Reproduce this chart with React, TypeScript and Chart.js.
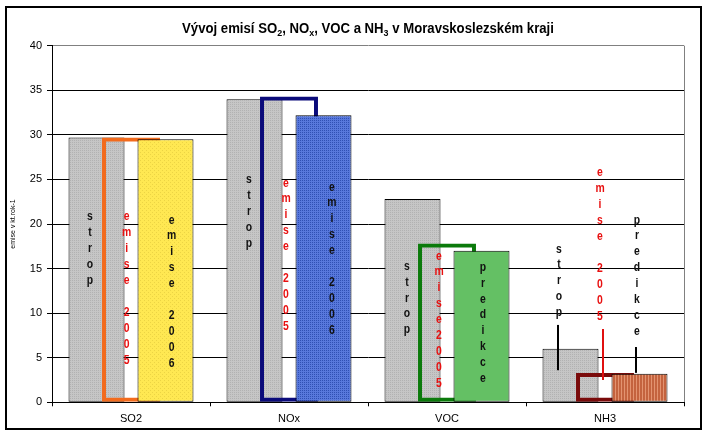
import React, { useEffect, useRef } from 'react';
import { Chart, registerables } from 'chart.js';

Chart.register(...registerables);

// ---- data ----
const categories = ['SO2', 'NOx', 'VOC', 'NH3'];
const stropValues = [29.7, 34.0, 22.8, 6.0];
const emise2005Values = [29.7, 34.3, 17.8, 3.3];
const thirdValues = [29.5, 32.2, 17.0, 3.2];
const thirdNames = ['emise 2006', 'emise 2006', 'predikce', 'predikce'];
const emise2005Names = ['emise 2005', 'emise 2005', 'emise2005', 'emise 2005'];
const stropName = 'strop';
const yMin = 0;
const yMax = 40;
const yStep = 5;
const yAxisTitle = 'emise v kt.rok-1';
const titleParts: [string, boolean][] = [
  ['Vývoj emisí SO', false],
  ['2', true],
  [', NO', false],
  ['x', true],
  [', VOC a NH', false],
  ['3', true],
  [' v Moravskoslezském kraji', false],
];

// ---- styles ----
const outlineColors = ['#F26B1D', '#0B0B7A', '#0B7A0B', '#7A0B0B'];
const FONT = '"Liberation Sans", Arial, sans-serif';

// label placement: [dataset, category, dx(px), value of first letter]
const labelPlacement: [number, number, number, number][] = [
  [0, 0, -6.5, 20.8], [1, 0, -4.3, 20.8], [2, 0, 6.2, 20.45],
  [0, 1, -5.5, 24.95], [1, 1, -3, 24.6], [2, 1, 8.5, 24.15],
  [0, 2, -5.5, 15.27], [1, 2, -8, 16.41], [2, 2, 1.5, 15.16],
  [0, 3, -11.5, 17.2], [1, 3, -5, 25.73], [2, 3, -2.5, 20.45],
];
// leader lines for NH3: [dataset, category, dx, fromValue, toValue, color]
const leaders: [number, number, number, number, number, string][] = [
  [0, 3, -12.5, 8.68, 3.6, '#000'],
  [1, 3, -2, 8.22, 2.5, '#E01010'],
  [2, 3, -3.5, 6.2, 3.3, '#000'],
];

function makePattern(w: number, h: number, base: string, paint: (c: CanvasRenderingContext2D) => void) {
  const c = document.createElement('canvas');
  c.width = w;
  c.height = h;
  const g = c.getContext('2d')!;
  g.fillStyle = base;
  g.fillRect(0, 0, w, h);
  paint(g);
  return g.createPattern(c, 'repeat')!;
}

const drawOrderPlugin = {
  id: 'drawOrder',
  beforeDatasetsDraw(chart: any) {
    const n = chart.data.datasets.length;
    for (let i = 0; i < n; i++) {
      const meta = chart.getDatasetMeta(i);
      if (!meta.hidden) meta.controller.draw();
    }
    return false;
  },
};

const labelsPlugin = {
  id: 'barLabels',
  afterDraw(chart: any) {
    const ctx = chart.ctx as CanvasRenderingContext2D;
    const ys = chart.scales.y;
    ctx.save();
    ctx.font = 'bold 13px ' + FONT;
    ctx.textAlign = 'center';
    ctx.textBaseline = 'middle';
    const step = 15.9;
    labelPlacement.forEach(([ds, cat, dx, top]) => {
      const el = chart.getDatasetMeta(ds).data[cat];
      const text = ds === 0 ? stropName : ds === 1 ? emise2005Names[cat] : thirdNames[cat];
      ctx.fillStyle = ds === 1 ? '#E81010' : '#111';
      let py = ys.getPixelForValue(top);
      const x = el.x + dx;
      for (const ch of text) {
        if (ch !== ' ') {
          ctx.save();
          ctx.translate(x, py);
          ctx.scale(0.8, 1);
          ctx.fillText(ch, 0, 0);
          ctx.restore();
        }
        py += step;
      }
    });
    leaders.forEach(([ds, cat, dx, from, to, color]) => {
      const el = chart.getDatasetMeta(ds).data[cat];
      ctx.strokeStyle = color;
      ctx.lineWidth = 2;
      ctx.beginPath();
      ctx.moveTo(el.x + dx, ys.getPixelForValue(from));
      ctx.lineTo(el.x + dx, ys.getPixelForValue(to));
      ctx.stroke();
    });
    ctx.restore();
  },
};

const titlePlugin = {
  id: 'subTitle',
  afterDraw(chart: any) {
    const ctx = chart.ctx as CanvasRenderingContext2D;
    const area = chart.chartArea;
    const sx = 0.94;
    const mainFont = 'bold 14px ' + FONT;
    const subFont = 'bold 9.5px ' + FONT;
    ctx.save();
    ctx.fillStyle = '#000';
    ctx.textBaseline = 'alphabetic';
    ctx.textAlign = 'left';
    let total = 0;
    titleParts.forEach(([t, sub]) => {
      ctx.font = sub ? subFont : mainFont;
      total += ctx.measureText(t).width;
    });
    const cx = (area.left + area.right) / 2;
    const baseline = 32.5;
    ctx.translate(cx - (total * sx) / 2, baseline);
    ctx.scale(sx, 1);
    let x = 0;
    titleParts.forEach(([t, sub]) => {
      ctx.font = sub ? subFont : mainFont;
      ctx.fillText(t, x, sub ? 3 : 0);
      x += ctx.measureText(t).width;
    });
    ctx.restore();
  },
};

export default function App() {
  const ref = useRef<HTMLCanvasElement>(null);
  useEffect(() => {
    const canvas = ref.current!;
    const stropPattern = makePattern(2, 2, '#C6C6C6', (g) => {
      g.fillStyle = '#B2B2B2';
      g.fillRect(0, 0, 1, 1);
    });
    const yellowPattern = makePattern(4, 4, '#FFE852', (g) => {
      g.fillStyle = '#ECD444';
      g.fillRect(0, 0, 1, 1);
      g.fillRect(2, 2, 1, 1);
    });
    const bluePattern = makePattern(4, 4, '#5878DC', (g) => {
      g.fillStyle = '#3050B4';
      g.fillRect(0, 0, 1, 1);
      g.fillRect(2, 2, 1, 1);
      g.fillRect(0, 2, 1, 1);
      g.fillRect(2, 0, 1, 1);
    });
    const brownPattern = makePattern(3, 3, '#C4633E', (g) => {
      g.fillStyle = '#E39370';
      g.fillRect(0, 0, 1, 3);
    });
    const thirdFills = [yellowPattern, bluePattern, '#64C064', brownPattern];

    const chart = new Chart(canvas, {
      type: 'bar',
      data: {
        labels: categories,
        datasets: [
          {
            label: stropName,
            data: stropValues,
            backgroundColor: stropPattern as any,
            borderColor: '#000',
            borderWidth: 1,
            borderSkipped: false,
          },
          {
            label: 'emise 2005',
            data: emise2005Values,
            backgroundColor: 'rgba(0,0,0,0)',
            borderColor: outlineColors,
            borderWidth: 4,
            borderSkipped: false,
            barPercentage: 1.68,
          },
          {
            label: 'emise 2006 / predikce',
            data: thirdValues,
            backgroundColor: thirdFills as any,
            borderColor: '#000',
            borderWidth: 1,
            borderSkipped: false,
          },
        ],
      },
      options: {
        responsive: false,
        animation: false,
        events: [],
        layout: { padding: { left: 7, right: 24, top: 45.7, bottom: 0 } },
        datasets: { bar: { categoryPercentage: 0.655, barPercentage: 1.623 } },
        plugins: {
          legend: { display: false },
          tooltip: { enabled: false },
          title: { display: false },
        },
        scales: {
          x: {
            grid: {
              offset: true,
              drawOnChartArea: true,
              color: (c: any) => (c.type === 'scale' || c.index === undefined ? '#808080' : 'rgba(0,0,0,0)'),
              tickColor: '#000',
              tickLength: 4,
            },
            border: { color: '#000', width: 1 },
            ticks: { color: '#000', font: { family: FONT, size: 11 }, padding: 6 },
            afterFit: (s: any) => {
              s.height = 30.7;
            },
          },
          y: {
            min: yMin,
            max: yMax,
            ticks: { stepSize: yStep, color: '#000', font: { family: FONT, size: 11 }, padding: 5 },
            grid: {
              color: (c: any) => (c.tick && c.tick.value === yMax ? '#808080' : '#000'),
              tickColor: '#000',
              tickLength: 5,
            },
            border: { color: '#000', width: 1 },
            title: {
              display: true,
              text: yAxisTitle,
              color: '#000',
              font: { family: FONT, size: 7 },
              padding: { top: 2, bottom: 0 },
            },
            afterFit: (s: any) => {
              s.width = 45;
            },
          },
        },
      },
      plugins: [drawOrderPlugin, labelsPlugin, titlePlugin],
    });
    return () => chart.destroy();
  }, []);

  return (
    <div style={{ position: 'absolute', left: 0, top: 0, width: 708, height: 433, background: '#fff' }}>
      <canvas ref={ref} width={708} height={433} style={{ position: 'absolute', left: 0, top: 0 }} />
      <div
        style={{
          position: 'absolute',
          left: 5,
          top: 6,
          width: 697,
          height: 424,
          border: '2px solid #000',
          boxSizing: 'border-box',
          pointerEvents: 'none',
        }}
      />
    </div>
  );
}
